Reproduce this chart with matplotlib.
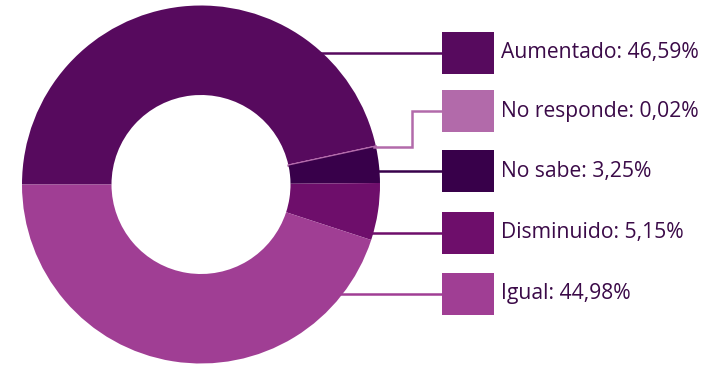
import numpy as np
import matplotlib
matplotlib.use("Agg")
import matplotlib.pyplot as plt
from matplotlib.patches import Rectangle

categories = ["Aumentado", "No responde", "No sabe", "Disminuido", "Igual"]
values = [46.59, 0.02, 3.25, 5.15, 44.98]
labels = ["Aumentado: 46,59%", "No responde: 0,02%", "No sabe: 3,25%",
          "Disminuido: 5,15%", "Igual: 44,98%"]
colors = ["#570a5e", "#b26aaa", "#38004a", "#6e0e6b", "#a03e94"]

W, H = 712, 367
fig = plt.figure(figsize=(W / 100, H / 100), dpi=100)
ax = fig.add_axes([0, 0, 1, 1])

cx, cy = 201, H - 184.5
R = 179
width = 89.5

wedges, _ = ax.pie(values, colors=colors, startangle=180, counterclock=False,
                   center=(cx, cy), radius=R,
                   wedgeprops=dict(width=width, linewidth=0))
# make the tiny slice visible as a line
wedges[1].set_edgecolor(colors[1])
wedges[1].set_linewidth(1.6)

ax.set_xlim(0, W)
ax.set_ylim(0, H)
ax.set_aspect("equal")
ax.axis("off")

# legend layout (pixel positions from top)
leg_y_top = [52.5, 111, 171, 232.5, 293.5]
sq_x, sq_w, sq_h = 442, 52, 42
txt_x = 501
line_bend_x = 411.7

for i, (lab, col) in enumerate(zip(labels, colors)):
    ly = H - leg_y_top[i]
    ax.add_patch(Rectangle((sq_x, ly - sq_h / 2), sq_w, sq_h, facecolor=col,
                           edgecolor="none", zorder=3))
    ax.text(txt_x, ly, lab, fontsize=15.2, color="#3b0a48", va="center",
            ha="left", family="Open Sans")
    if i == 1:
        # leader from the slice angle, bent
        start = 180 - 360 * (sum(values[:i]) + values[i] / 2) / sum(values)
        a = np.deg2rad(start)
        x0 = cx + R * np.cos(a)
        y0 = cy + R * np.sin(a)
        ax.plot([x0 - 2, line_bend_x, line_bend_x, sq_x], [y0, y0, ly, ly],
                color=col, lw=1.8, solid_joinstyle="miter", zorder=1)
    else:
        dy = ly - cy
        x0 = cx + np.sqrt(R ** 2 - dy ** 2)
        ax.plot([x0 - 2, sq_x], [ly, ly], color=col, lw=1.8, zorder=1)

fig.savefig("out.png", dpi=100)
